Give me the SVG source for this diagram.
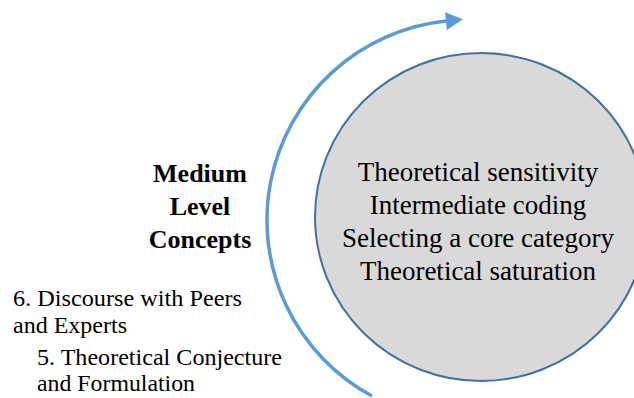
<svg xmlns="http://www.w3.org/2000/svg" width="634" height="398" viewBox="0 0 634 398" font-family="Liberation Serif, Times New Roman, serif">
  <defs>
    <marker id="head" markerUnits="userSpaceOnUse" markerWidth="20" markerHeight="20" viewBox="0 -10 18 20" refX="0" refY="0" orient="auto">
      <path d="M0,-9 L17,0 L0,9 Z" fill="#5B9BD5"/>
    </marker>
  </defs>

  <rect width="634" height="398" fill="#fff"/>

  <!-- inner circle with the stage activities -->
  <g id="core">
    <ellipse cx="481" cy="217" rx="166" ry="164" fill="#D9D9D9" stroke="#41719C" stroke-width="2"/>
    <text x="478" y="181" font-family="Liberation Serif" font-size="27" text-anchor="middle">Theoretical sensitivity</text>
    <text x="478" y="214" font-family="Liberation Serif" font-size="27" text-anchor="middle">Intermediate coding</text>
    <text x="478" y="247" font-family="Liberation Serif" font-size="27" text-anchor="middle">Selecting a core category</text>
    <text x="478" y="280" font-family="Liberation Serif" font-size="27" text-anchor="middle">Theoretical saturation</text>
  </g>

  <!-- cycle arrow around the circle -->
  <g id="connectors">
    <path d="M372,396 A200,200 0 0 1 446,21.1" fill="none" stroke="#5B9BD5" stroke-width="3.5" marker-end="url(#head)"/>
  </g>

  <g id="level-label">
    <text x="200" y="182" font-family="Liberation Serif" font-size="26" font-weight="bold" text-anchor="middle">Medium</text>
    <text x="200" y="215" font-family="Liberation Serif" font-size="26" font-weight="bold" text-anchor="middle">Level</text>
    <text x="200" y="248" font-family="Liberation Serif" font-size="26" font-weight="bold" text-anchor="middle">Concepts</text>
  </g>

  <g id="step-6">
    <text x="13" y="306" font-family="Liberation Serif" font-size="23" textLength="229" lengthAdjust="spacingAndGlyphs">6. Discourse with Peers</text>
    <text x="13" y="333" font-family="Liberation Serif" font-size="23" textLength="114" lengthAdjust="spacingAndGlyphs">and Experts</text>
  </g>

  <g id="step-5">
    <text x="37" y="365" font-family="Liberation Serif" font-size="23" textLength="245" lengthAdjust="spacingAndGlyphs">5. Theoretical Conjecture</text>
    <text x="37" y="391" font-family="Liberation Serif" font-size="23" textLength="158" lengthAdjust="spacingAndGlyphs">and Formulation</text>
  </g>
</svg>
